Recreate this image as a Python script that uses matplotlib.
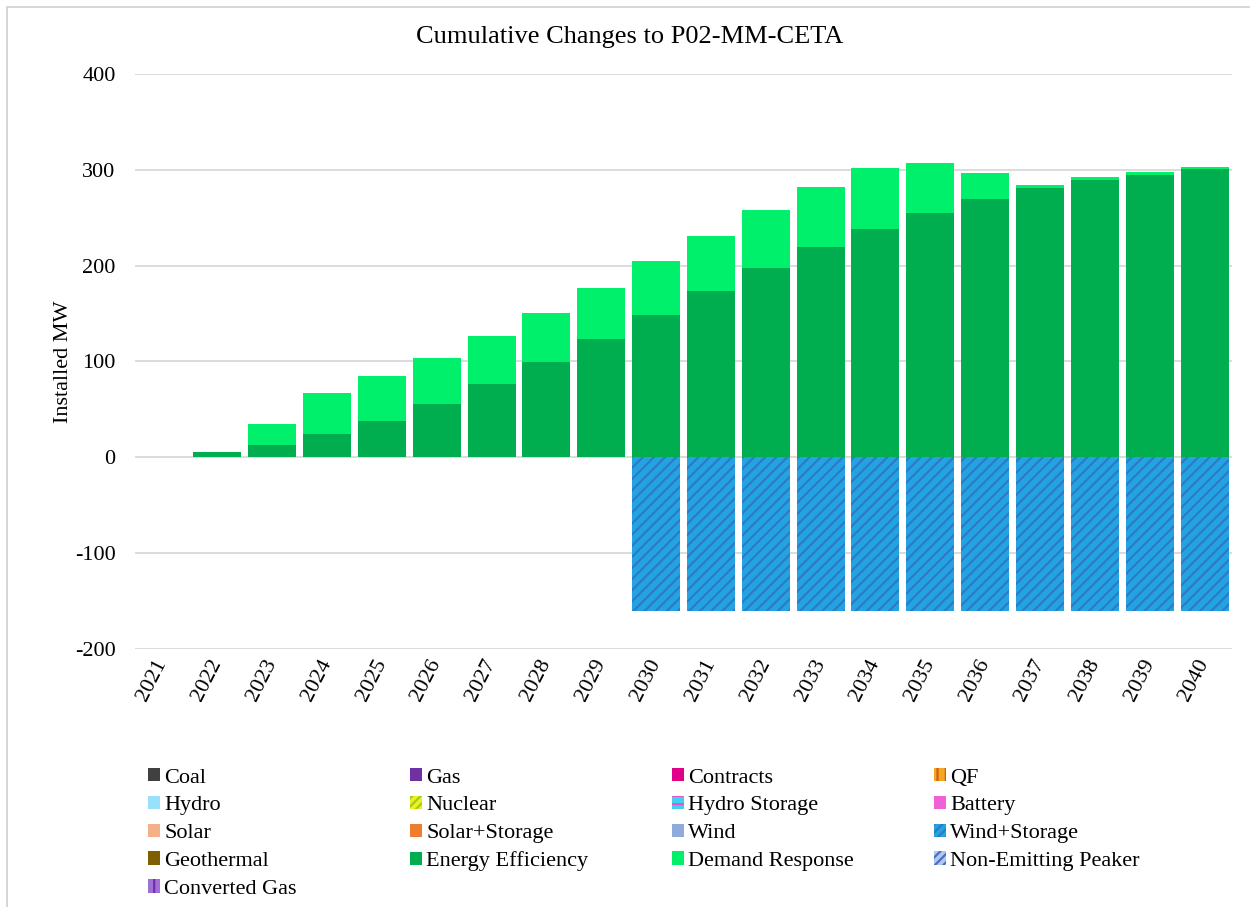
import matplotlib
matplotlib.use("Agg")
import matplotlib.pyplot as plt
from matplotlib.patches import Patch, Rectangle

plt.rcParams["font.family"] = ["Liberation Serif", "DejaVu Serif"]
plt.rcParams["hatch.linewidth"] = 1.6

years = [str(y) for y in range(2021, 2041)]
energy_efficiency = [0, 5, 12.3, 23.8, 37.7, 55.6, 76.9, 98.9, 123.9, 148.9,
                     174.0, 198.0, 218.9, 238.7, 255.4, 269.0, 280.8, 289.0, 295.0, 300.6]
demand_response = [0, 0, 22.3, 43.7, 46.6, 47.9, 49.6, 52.1, 53.2, 56.4,
                   57.4, 59.5, 62.6, 62.7, 51.2, 27.2, 2.8, 3.0, 2.9, 2.8]
wind_storage = [0, 0, 0, 0, 0, 0, 0, 0, 0, -160,
                -160, -160, -160, -160, -160, -160, -160, -160, -160, -160]

yticks = [-200, -100, 0, 100, 200, 300, 400]

# legend styles: (label, facecolor, hatch, hatchcolor)
legend_columns = [
    [("Coal", "#404040", None, None),
     ("Hydro", "#99e1fb", None, None),
     ("Solar", "#f5b08a", None, None),
     ("Geothermal", "#7f6000", None, None),
     ("Converted Gas", "#a070d8", "||", "#7030a0")],
    [("Gas", "#7030a0", None, None),
     ("Nuclear", "#f0f020", "////", "#9ccc20"),
     ("Solar+Storage", "#ed7d31", None, None),
     ("Energy Efficiency", "#00ad4f", None, None)],
    [("Contracts", "#e0008a", None, None),
     ("Hydro Storage", "#40d0f0", "--", "#f050d0"),
     ("Wind", "#8faadc", None, None),
     ("Demand Response", "#00f06c", None, None)],
    [("QF", "#f5a623", "||", "#d0600f"),
     ("Battery", "#f060d8", None, None),
     ("Wind+Storage", "#23a3e3", "////", "#2d7cc1"),
     ("Non-Emitting Peaker", "#b0c8f0", "////", "#4a70c0")],
]

fig = plt.figure(figsize=(12.5, 9.07), dpi=100)
ax = fig.add_axes([0.108, 0.2845, 0.8776, 0.634])

x = range(len(years))
w = 0.875
ax.bar(x, energy_efficiency, width=w, color="#00ad4f", linewidth=0, zorder=3)
ax.bar(x, demand_response, width=w, bottom=energy_efficiency, color="#00f06c",
       linewidth=0, zorder=3)
ax.bar(x, wind_storage, width=w, facecolor="#23a3e3", edgecolor="#2d7cc1",
       hatch="///", linewidth=0, zorder=3)

ax.set_xlim(-0.5, len(years) - 0.5)
ax.set_ylim(-200, 400)
ax.set_yticks(yticks)
ax.set_yticklabels([str(v) for v in yticks], fontsize=16)
ax.set_xticks(list(x))
ax.set_xticklabels(years, fontsize=16, rotation=63, ha="right", va="center",
                   rotation_mode="anchor")
ax.tick_params(axis="both", length=0)
ax.tick_params(axis="y", pad=14)
ax.tick_params(axis="x", pad=8)
ax.yaxis.grid(True, color="#d9d9d9", linewidth=1.3, zorder=0)
ax.set_axisbelow(True)
for s in ax.spines.values():
    s.set_visible(False)

ax.set_ylabel("Installed MW", fontsize=16, labelpad=1.5)
fig.text(0.504, 1 - 37 / 907, "Cumulative Changes to P02-MM-CETA",
         fontsize=19, ha="center", va="center")

# legend, one block per column
col_x = [148 / 1250, 410 / 1250, 672 / 1250, 934 / 1250]
for cx, entries in zip(col_x, legend_columns):
    handles = []
    for label, fc, hatch, hc in entries:
        if hatch:
            handles.append(Patch(facecolor=fc, edgecolor=hc, hatch=hatch,
                                 linewidth=0, label=label))
        else:
            handles.append(Patch(facecolor=fc, linewidth=0, label=label))
    fig.legend(handles=handles, loc="upper left",
               bbox_to_anchor=(cx, 1 - 768 / 907),
               frameon=False, fontsize=16, handlelength=0.55, handleheight=0.55,
               handletextpad=0.18, labelspacing=0.37, borderpad=0,
               borderaxespad=0)

# chart frame
fig.add_artist(Rectangle((7 / 1250, -0.05), 1.2, 1.05 - 7 / 907,
                         transform=fig.transFigure, fill=False,
                         edgecolor="#d0d0d0", linewidth=1.2))

fig.savefig("out.png", dpi=100)
